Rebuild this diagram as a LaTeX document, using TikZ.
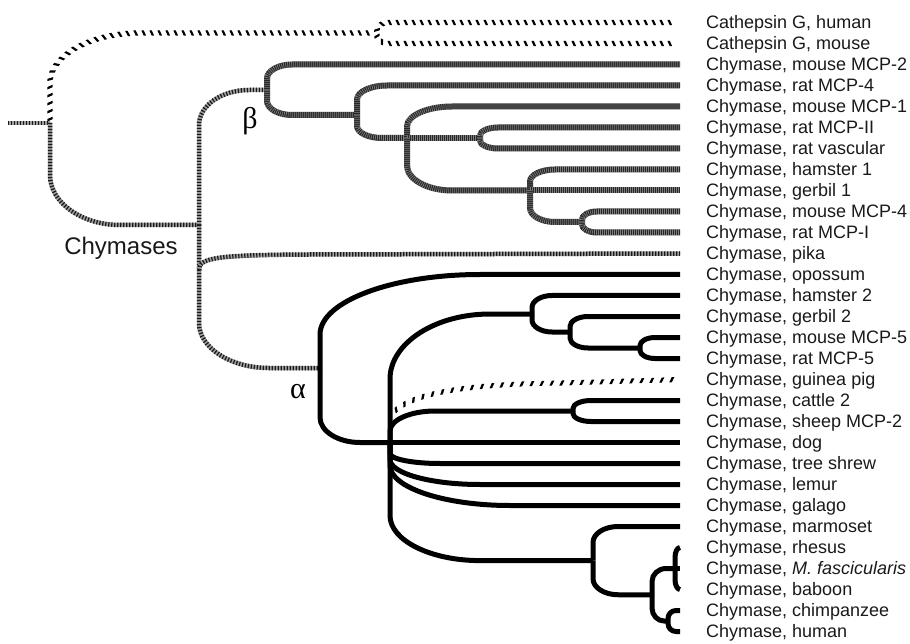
\documentclass[tikz,border=0pt]{standalone}
\usepackage{fontspec}
\setmainfont{Liberation Sans}
\newfontfamily\grk{Liberation Serif}
\usetikzlibrary{calc,decorations.markings}
\tikzset{
  lbl/.style={anchor=base west, inner sep=0pt, font=\fontsize{18}{20}\selectfont, text=black!90},
  alph/.style={line width=5pt, draw=black, line join=round},
  betaln/.style={line width=6pt, draw=black!85, line join=round,
    postaction={draw=white, opacity=0.4, line width=6pt, dash pattern=on 0.7pt off 1.3pt}},
  chym/.style={line width=4.5pt, draw=black!38, line join=round,
    postaction={draw=black!90, line width=4.5pt, dash pattern=on 1.2pt off 1.8pt}},
  cath/.style={draw=none, decoration={markings, mark=between positions 0.01 and 0.99 step 8pt with
    {\fill[black] (-2.4pt,2.7pt) -- (0pt,2.7pt) -- (2.4pt,-2.7pt) -- (0pt,-2.7pt) -- cycle;}},
    postaction={decorate}},
  gpig/.style={draw=none, decoration={markings, mark=between positions 0.02 and 0.99 step 10pt with
    {\fill[black] (2.6pt,2.5pt) -- (0pt,2.5pt) -- (-2.6pt,-2.5pt) -- (0pt,-2.5pt) -- cycle;}},
    postaction={decorate}},
}
\newcommand\brch[5]{\draw[#1] (#2) -- ($(#2|-#3)+(0,#4)$) .. controls ($(#2|-#3)+(0,{0.45*(#4)})$) and ($(#2|-#3)+({0.45*(#5)},0)$) .. ($(#2|-#3)+(#5,0)$) -- (#3);}
\begin{document}
\begin{tikzpicture}[x=1pt,y=-1pt]
\useasboundingbox (0,0) rectangle (910,644);
\foreach \t [count=\i from 0] in {{Cathepsin G, human},{Cathepsin G, mouse},{Chymase, mouse MCP-2},{Chymase, rat MCP-4},{Chymase, mouse MCP-1},{Chymase, rat MCP-II},{Chymase, rat vascular},{Chymase, hamster 1},{Chymase, gerbil 1},{Chymase, mouse MCP-4},{Chymase, rat MCP-I},{Chymase, pika},{Chymase, opossum},{Chymase, hamster 2},{Chymase, gerbil 2},{Chymase, mouse MCP-5},{Chymase, rat MCP-5},{Chymase, guinea pig},{Chymase, cattle 2},{Chymase, sheep MCP-2},{Chymase, dog},{Chymase, tree shrew},{Chymase, lemur},{Chymase, galago},{Chymase, marmoset},{Chymase, rhesus},{Chymase, \textit{M. fascicularis}},{Chymase, baboon},{Chymase, chimpanzee},{Chymase, human}}{
  \coordinate (L\i) at (680,{22.5+21*\i});
  \node[lbl] (T\i) at ($(L\i)+(26,6.45)$) {\t};
}
% internal nodes
\coordinate (R0) at (8,123);
\coordinate (R) at (50,123);
\coordinate (CG) at (377,33);
\coordinate (CH) at (199,225);
\coordinate (pk) at (199,270);
\coordinate (B0) at (267,90);
\coordinate (b1) at (357,115);
\coordinate (b2) at (407,138);
\coordinate (b3) at (480,138);
\coordinate (b4) at (530,190.5);
\coordinate (b5) at (582,222);
\coordinate (A) at (320,368);
\coordinate (P) at (390,442.5);
\coordinate (gp) at (392,414);
\coordinate (a2) at (532,314);
\coordinate (a3) at (570,332);
\coordinate (a4) at (640,348);
\coordinate (cs) at (573,411);
\coordinate (pr) at (593,560.6);
\coordinate (p2) at (652,594.75);
\coordinate (p3) at (675,568.5);
\coordinate (p4) at (668,621);
% root and outgroup
\draw[chym] (R0) -- (R);
\brch{cath}{R}{CG}{50}{90}
\brch{cath}{CG}{L0}{8}{12}
\brch{cath}{CG}{L1}{-8}{12}
\brch{chym}{R}{CH}{-50}{70}
\brch{chym}{CH}{B0}{35}{50}
\brch{chym}{CH}{A}{-45}{70}
\draw[chym] (pk) .. controls ($(pk)+(0,-12)$) and ($(pk)+(15,-15)$) .. ($(pk|-L11)+(110,1)$) -- (L11);
% beta clade
\brch{betaln}{B0}{L2}{14}{25}
\brch{betaln}{B0}{b1}{-14}{25}
\brch{betaln}{b1}{L3}{14}{30}
\brch{betaln}{b1}{b2}{-12}{25}
\brch{betaln}{b2}{L4}{20}{45}
\draw[betaln] (b2) -- (b3);
\brch{betaln}{b2}{b4}{-25}{45}
\brch{betaln}{b3}{L5}{8}{18}
\brch{betaln}{b3}{L6}{-8}{18}
\brch{betaln}{b4}{L7}{12}{25}
\draw[betaln] (b4) -- (L8);
\brch{betaln}{b4}{b5}{-14}{25}
\brch{betaln}{b5}{L9}{8}{15}
\brch{betaln}{b5}{L10}{-8}{15}
% alpha clade
\brch{alph}{A}{L12}{60}{160}
\brch{alph}{A}{P}{-25}{40}
\brch{alph}{P}{a2}{65}{100}
\brch{alph}{P}{cs}{20}{45}
\draw[alph] (P) -- (L20);
\brch{alph}{P}{L21}{-10}{50}
\brch{alph}{P}{L22}{-25}{90}
\brch{alph}{P}{L23}{-40}{120}
\brch{alph}{P}{pr}{-45}{90}
\brch{alph}{a2}{L13}{12}{20}
\brch{alph}{a2}{a3}{-12}{20}
\brch{alph}{a3}{L14}{10}{18}
\brch{alph}{a3}{a4}{-10}{18}
\brch{alph}{a4}{L15}{8}{15}
\brch{alph}{a4}{L16}{-8}{15}
\brch{alph}{cs}{L18}{8}{18}
\brch{alph}{cs}{L19}{-8}{18}
\brch{alph}{pr}{L24}{16}{25}
\brch{alph}{pr}{p2}{-16}{25}
\brch{alph}{p2}{p3}{13}{14}
\brch{alph}{p2}{p4}{-13}{12}
\brch{alph}{p3}{L25}{10}{5}
\draw[alph] (p3) -- (L26);
\brch{alph}{p3}{L27}{-10}{5}
\brch{alph}{p4}{L28}{8}{8}
\brch{alph}{p4}{L29}{-8}{8}
\draw[gpig] (gp) .. controls ($(gp)+(15,-18)$) and ($(gp)+(60,-30)$) .. ($(gp)+(170,-31)$) -- (L17);
% clade labels
\node[font=\fontsize{24}{28}\selectfont, text=black!90] (chl) at (121,248) {Chymases};
\node[font=\grk\fontsize{30}{32}\selectfont] (bl) at (250,121) {β};
\node[font=\grk\fontsize{30}{32}\selectfont] (al) at (298,391.5) {α};
\end{tikzpicture}
\end{document}
